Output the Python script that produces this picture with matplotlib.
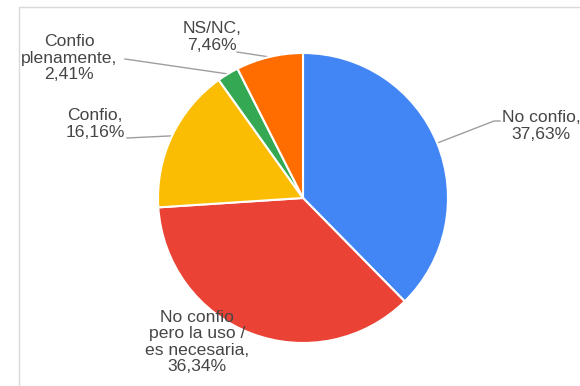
import numpy as np
import matplotlib
matplotlib.use("Agg")
import matplotlib.pyplot as plt
from matplotlib.patches import Rectangle

# Survey answers: trust level
categories = ["No confio", "No confio pero la uso / es necesaria", "Confio",
              "Confio plenamente", "NS/NC"]
label_lines = ["No confio,", "No confio\npero la uso /\nes necesaria,", "Confio,",
               "Confio\nplenamente,", "NS/NC,"]
shares = [37.63, 36.34, 16.16, 2.41, 7.46]
colors = ["#4285F4", "#EA4335", "#FBBC04", "#34A853", "#FF6D01"]

plt.rcParams['font.family'] = ['Liberation Sans', 'DejaVu Sans']
W, H = 580, 386
fig = plt.figure(figsize=(W / 100, H / 100), dpi=100)
ax = fig.add_axes([0, 0, 1, 1])


def py(y):
    # pixel row (from the top) to axis y
    return H - y


# light frame around the chart area
ax.add_patch(Rectangle((19, py(400)), 600, 393, fill=False,
                       edgecolor="#d9d9d9", lw=1.0))

cx, cy, r = 303, py(198), 145
wedges, _ = ax.pie(shares, colors=colors, startangle=90, counterclock=False,
                   center=(cx, cy), radius=r, frame=True,
                   wedgeprops=dict(edgecolor="white", linewidth=1.5))
ax.set_xlim(0, W)
ax.set_ylim(0, H)
ax.axis("off")

text_color = "#454545"
# label block centres and leader-line paths (pixel coords, top-left origin)
label_pos = [(541, 126), (197, 342), (95, 124), (69, 58), (212, 37)]
leader_paths = [[(500, 121), (494, 121)], None, [(127, 138)], [(125, 59)], [(237, 52)]]

for w, share, txt, pos, path in zip(wedges, shares, label_lines, label_pos, leader_paths):
    pct = f"{share:.2f}".replace(".", ",") + "%"
    ax.text(pos[0], py(pos[1]), f"{txt}\n{pct}", ha="center", va="center",
            fontsize=12.6, color=text_color, linespacing=1.13)
    if path is None:
        continue
    mid = np.deg2rad((w.theta1 + w.theta2) / 2)
    ex, ey = cx + r * np.cos(mid), cy + r * np.sin(mid)
    xs = [p[0] for p in path] + [ex]
    ys = [py(p[1]) for p in path] + [ey]
    ax.plot(xs, ys, color="#9e9e9e", lw=1.0, zorder=0.5)

fig.savefig("out.png", dpi=100)
